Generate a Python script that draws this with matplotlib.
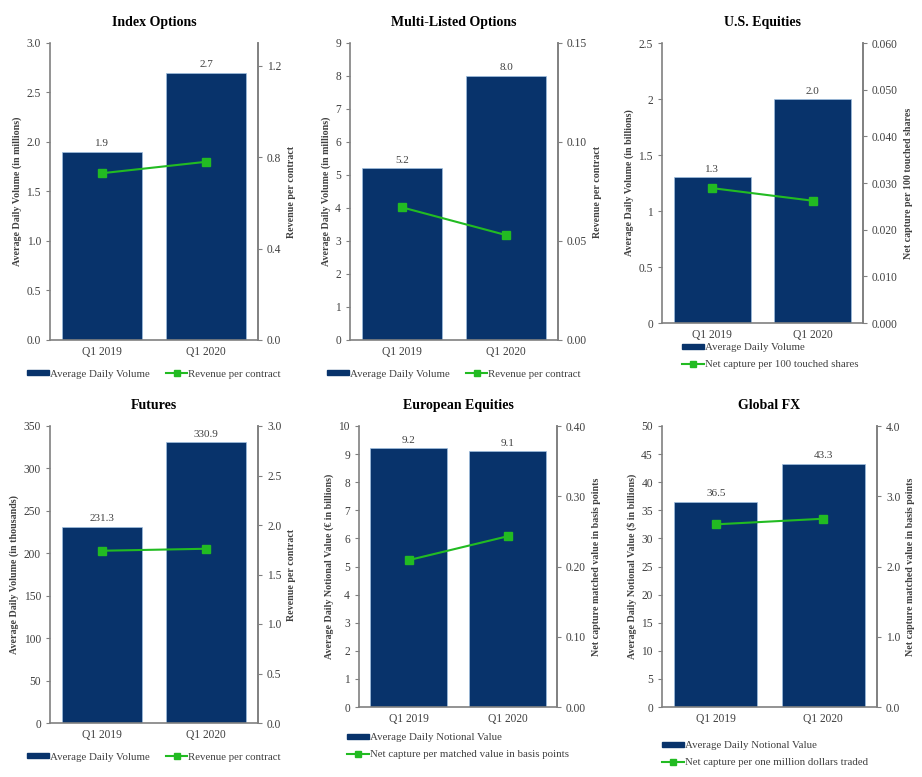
import numpy as np
import matplotlib
matplotlib.use("Agg")
import matplotlib.pyplot as plt
from matplotlib.lines import Line2D
from matplotlib.patches import Patch

plt.rcParams['font.family'] = ['Liberation Serif', 'DejaVu Serif']

# ================= DADOS =================
quarters = ['Q1 2019', 'Q1 2020']

titles = ['Index Options', 'Multi-Listed Options', 'U.S. Equities',
          'Futures', 'European Equities', 'Global FX']

bar_values = [
    [1.9, 2.7],
    [5.2, 8.0],
    [1.3, 2.0],
    [231.3, 330.9],
    [9.2, 9.1],
    [36.5, 43.3],
]
bar_labels = [
    ['1.9', '2.7'], ['5.2', '8.0'], ['1.3', '2.0'],
    ['231.3', '330.9'], ['9.2', '9.1'], ['36.5', '43.3'],
]
line_values = [
    [0.73, 0.78],
    [0.067, 0.053],
    [0.0289, 0.0262],
    [1.74, 1.76],
    [0.209, 0.243],
    [2.60, 2.68],
]

left_labels = [
    'Average Daily Volume (in millions)',
    'Average Daily Volume (in millions)',
    'Average Daily Volume (in billions)',
    'Average Daily Volume (in thousands)',
    'Average Daily Notional Value (€ in billions)',
    'Average Daily Notional Value ($ in billions)',
]
right_labels = [
    'Revenue per contract', 'Revenue per contract',
    'Net capture per 100 touched shares', 'Revenue per contract',
    'Net capture matched value in basis points',
    'Net capture matched value in basis points',
]
bar_legend = ['Average Daily Volume'] * 4 + ['Average Daily Notional Value'] * 2
line_legend = ['Revenue per contract', 'Revenue per contract',
               'Net capture per 100 touched shares', 'Revenue per contract',
               'Net capture per matched value in basis points',
               'Net capture per one million dollars traded']

left_ticks = [
    [0.0, 0.5, 1.0, 1.5, 2.0, 2.5, 3.0],
    list(range(0, 10)),
    [0, 0.5, 1, 1.5, 2, 2.5],
    list(range(0, 351, 50)),
    list(range(0, 11)),
    list(range(0, 51, 5)),
]
left_fmt = ['{:.1f}', '{:g}', '{:g}', '{:g}', '{:g}', '{:g}']
right_ticks = [
    [0.0, 0.4, 0.8, 1.2],
    [0.0, 0.05, 0.10, 0.15],
    [0.0, 0.01, 0.02, 0.03, 0.04, 0.05, 0.06],
    [0.0, 0.5, 1.0, 1.5, 2.0, 2.5, 3.0],
    [0.0, 0.1, 0.2, 0.3, 0.4],
    [0.0, 1.0, 2.0, 3.0, 4.0],
]
right_fmt = ['{:.1f}', '{:.2f}', '{:.3f}', '{:.1f}', '{:.2f}', '{:.1f}']
right_max = [1.3, 0.15, 0.06, 3.0, 0.4, 4.0]

# posições em pixels: (esquerda, topo, direita, base)
rects_px = [
    (50, 43, 258, 340),
    (350, 43, 558, 340),
    (662, 43, 863, 323),
    (50, 426, 258, 723),
    (359, 426, 557, 707),
    (662, 426, 877, 707),
]
# legenda em duas linhas: canto superior esquerdo em pixels (ou None)
legend_corner = [None, None, (682, 343), None, (347, 733), (662, 741)]

AZUL = '#08336b'
VERDE = '#22bb22'
CINZA = '#808080'
TEXTO = '#404040'

W, H = 922, 777
fig = plt.figure(figsize=(W / 100, H / 100), dpi=100)

for i in range(6):
    l, t, r, b = rects_px[i]
    ax = fig.add_axes([l / W, 1 - b / H, (r - l) / W, (b - t) / H])
    x = np.arange(len(quarters))
    bars = ax.bar(x, bar_values[i], width=0.77, color=AZUL,
                  edgecolor='#9fbfe0', linewidth=0.5)
    ax.set_xlim(-0.5, 1.5)
    ax.set_ylim(left_ticks[i][0], left_ticks[i][-1])
    ax.set_yticks(left_ticks[i])
    ax.set_yticklabels([left_fmt[i].format(v) for v in left_ticks[i]])
    ax.set_xticks(x)
    ax.set_xticklabels(quarters)
    off = left_ticks[i][-1] * 0.012
    for rect, lab in zip(bars, bar_labels[i]):
        ax.text(rect.get_x() + rect.get_width() / 2, rect.get_height() + off,
                lab, ha='center', va='bottom', fontsize=8, color=TEXTO)
    ax.set_ylabel(left_labels[i], fontsize=7.2, fontweight='bold', color=TEXTO,
                  labelpad=3)
    ax.set_title(titles[i], fontsize=10, fontweight='bold', pad=12)

    ax2 = ax.twinx()
    ax2.plot(x, line_values[i], color=VERDE, lw=1.5, marker='s', ms=6,
             markerfacecolor=VERDE, markeredgecolor=VERDE)
    ax2.set_ylim(0, right_max[i])
    ax2.set_yticks(right_ticks[i])
    ax2.set_yticklabels([right_fmt[i].format(v) for v in right_ticks[i]])
    ax2.set_ylabel(right_labels[i], fontsize=7.2, fontweight='bold', color=TEXTO,
                   labelpad=4)

    for a in (ax, ax2):
        a.spines['top'].set_visible(False)
        for s in ('left', 'right', 'bottom'):
            a.spines[s].set_color(CINZA)
            a.spines[s].set_linewidth(1.2)
        a.tick_params(colors=CINZA, labelcolor=TEXTO, labelsize=8.3,
                      direction='out', length=3)
    ax.tick_params(axis='x', length=0, pad=4, labelsize=8.3)
    ax2.spines['left'].set_visible(False)
    ax2.spines['bottom'].set_visible(False)

    handles = [Patch(facecolor=AZUL, edgecolor=AZUL),
               Line2D([0], [0], color=VERDE, lw=1.5, marker='s', ms=5)]
    names = [bar_legend[i], line_legend[i]]
    if legend_corner[i] is not None:
        cx, cy = legend_corner[i]
        leg = fig.legend(handles, names, loc='upper left',
                         bbox_to_anchor=(cx / W, 1 - cy / H), ncol=1,
                         frameon=False, fontsize=7.8, handlelength=2.0,
                         handletextpad=0.1, labelspacing=0.75,
                         borderaxespad=0, borderpad=0, handleheight=0.35)
    else:
        leg = ax.legend(handles, names, loc='upper center',
                        bbox_to_anchor=(0.5, -0.085), ncol=2, frameon=False,
                        fontsize=7.8, handlelength=2.0, handletextpad=0.1,
                        columnspacing=1.5, borderaxespad=0,
                        handleheight=0.35)
    for txt in leg.get_texts():
        txt.set_color(TEXTO)

fig.savefig('out.png', dpi=100, facecolor='white')
